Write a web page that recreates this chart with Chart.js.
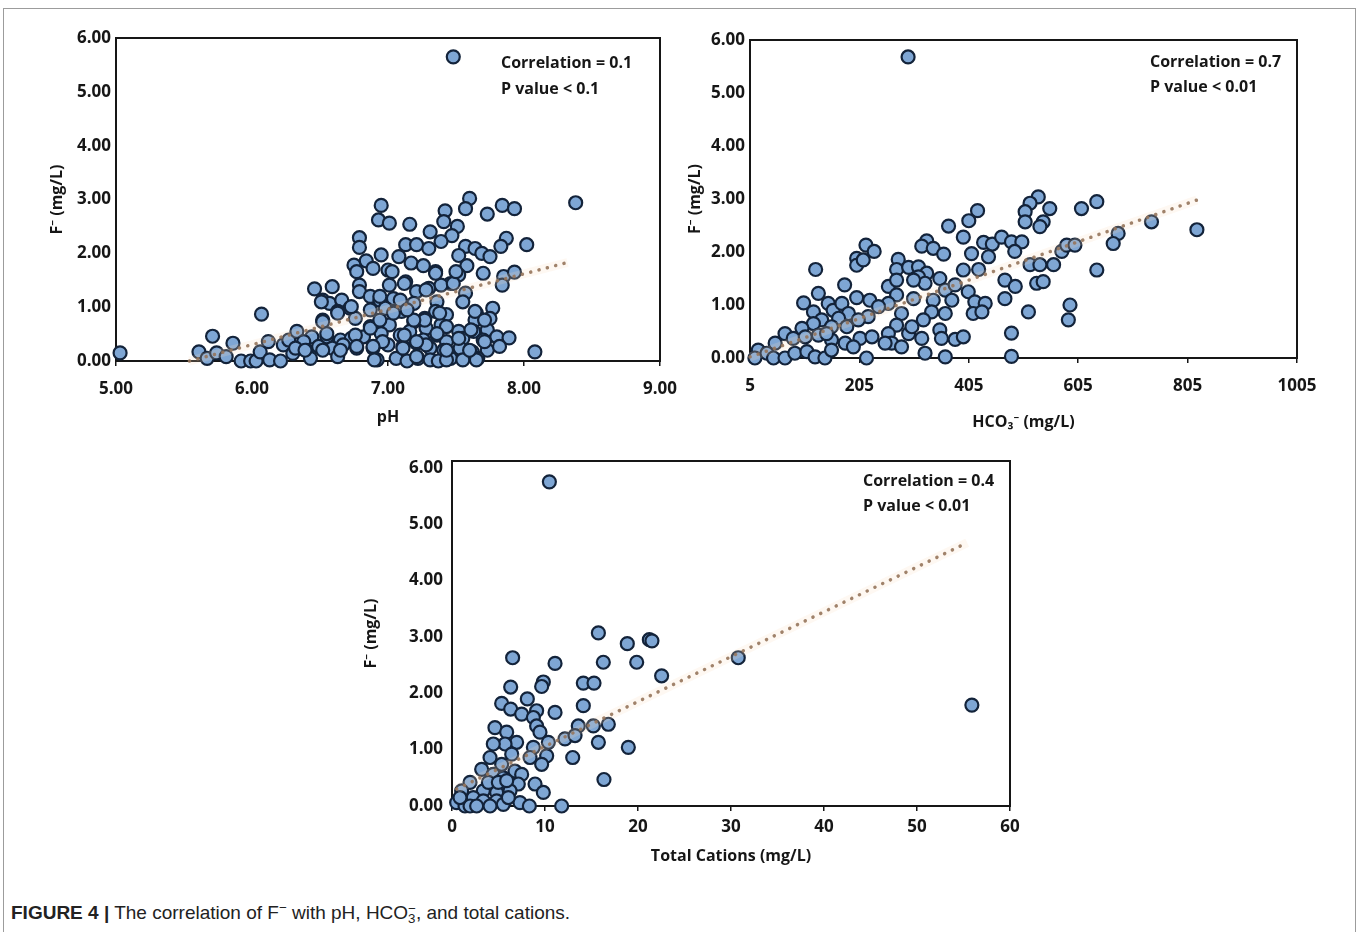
<!DOCTYPE html>
<html>
<head>
<meta charset="utf-8">
<script src="https://cdn.jsdelivr.net/npm/chart.js@4.4.1/dist/chart.umd.min.js"></script>
<style>
  body { margin: 0; background: #fff; width: 1358px; height: 932px; position: relative; overflow: hidden; }
  .frame { position: absolute; left: 3px; top: 8px; width: 1351px; height: 940px; border: 1px solid #9c9c9c; }
  canvas { position: absolute; }
  #caption { position: absolute; left: 11px; top: 900px; font-family: "Liberation Sans", Arial, sans-serif; font-size: 19px; color: #222; white-space: nowrap; }
  .ss { display: inline-block; vertical-align: -0.3em; line-height: 0.75em; font-size: 0.7em; }
</style>
</head>
<body>
<div class="frame"></div>
<canvas id="phChart" width="656" height="403" style="left:44px;top:28px"></canvas>
<canvas id="hco3Chart" width="655" height="408" style="left:682px;top:28px"></canvas>
<canvas id="cationChart" width="677" height="420" style="left:358px;top:450px"></canvas>
<div id="caption"><b>FIGURE 4 |</b> The correlation of F<sup style="font-size:0.7em">−</sup> with pH, HCO<span class="ss">−<br>3</span>, and total cations.</div>

<script>
const FONT = "'Open Sans', 'Noto Sans', sans-serif";
const INK = "#161616";

// shared y axis (fluoride, mg/L)
const fluorideTicks = [0, 1, 2, 3, 4, 5, 6];

// pH vs F-
const phTicks = [5, 6, 7, 8, 9];
const phPoints = [
  [5.03,0.15],[5.61,0.17],[5.71,0.46],[5.67,0.05],[5.74,0.15],[5.81,0.08],[5.86,0.33],[5.92,0.0],[5.99,0.0],
  [6.03,0.0],[6.07,0.87],[6.06,0.17],[6.12,0.36],[6.13,0.02],[6.21,0.0],[6.23,0.3],[6.27,0.39],[6.30,0.14],
  [7.60,3.02],[7.57,2.83],[7.73,2.73],[7.84,2.89],[7.93,2.83],[6.95,2.89],[6.93,2.62],[7.01,2.56],[7.16,2.54],
  [7.42,2.79],[7.41,2.59],[7.51,2.50],[7.47,2.33],[7.31,2.40],[8.02,2.16],[7.87,2.28],[7.83,2.13],[6.79,2.29],
  [6.79,2.11],[7.13,2.16],[7.21,2.16],[7.30,2.09],[7.39,2.22],[7.57,2.13],[7.64,2.09],[7.69,2.00],[7.75,1.94],
  [7.52,1.96],[6.95,1.97],[7.08,1.94],[6.84,1.86],[6.75,1.78],[6.89,1.72],[7.00,1.69],[7.17,1.82],[7.26,1.77],
  [7.35,1.66],[7.58,1.77],[6.77,1.66],[7.70,1.63],[7.52,1.60],[7.46,1.44],[7.85,1.57],[7.93,1.65],[7.84,1.41],
  [6.46,1.34],[6.59,1.38],[6.79,1.41],[6.79,1.29],[7.01,1.41],[7.13,1.47],[7.30,1.35],[7.39,1.41],[7.21,1.29],
  [7.57,1.26],[7.55,1.10],[6.52,1.13],[6.57,1.07],[6.66,1.13],[6.87,1.20],[6.94,1.13],[7.04,1.16],[7.10,1.07],
  [7.19,1.07],[7.36,1.10],[6.72,0.98],[6.63,0.92],[6.87,0.95],[6.98,0.98],[7.10,0.92],[7.35,0.92],[7.43,0.86],
  [7.65,0.89],[7.77,0.98],[7.75,0.79],[7.64,0.76],[6.52,0.76],[6.76,0.79],[6.87,0.64],[7.01,0.67],[7.19,0.73],
  [7.27,0.79],[7.28,0.61],[7.39,0.67],[7.52,0.55],[7.63,0.55],[7.73,0.58],[6.33,0.55],[6.44,0.45],[6.55,0.45],
  [6.65,0.39],[6.73,0.42],[6.82,0.45],[6.95,0.51],[7.09,0.48],[7.16,0.55],[7.26,0.39],[7.36,0.48],[7.43,0.36],
  [7.55,0.42],[7.70,0.39],[7.80,0.45],[7.89,0.43],[8.08,0.17],[6.38,0.36],[6.32,0.24],[6.40,0.20],[6.49,0.27],
  [6.59,0.24],[6.67,0.30],[6.77,0.24],[6.89,0.24],[7.00,0.30],[7.11,0.27],[7.21,0.33],[7.31,0.24],[7.41,0.20],
  [7.53,0.24],[7.62,0.17],[7.73,0.20],[7.82,0.27],[6.43,0.05],[6.63,0.08],[6.92,0.02],[7.06,0.05],[7.14,0.00],
  [7.22,0.05],[7.31,0.02],[7.37,0.00],[7.46,0.05],[7.55,0.02],[7.66,0.05],[7.48,5.65],[8.38,2.94],
  [6.51,1.10],[6.73,1.01],[6.63,0.89],[6.52,0.73],[6.55,0.51],[6.76,0.48],[6.87,0.61],[6.94,1.20],[7.12,1.44],
  [7.09,1.13],[7.28,1.32],[7.48,1.44],[7.64,0.92],[7.71,0.76],[7.61,0.58],[7.71,0.36],[7.52,0.42],[7.43,0.64],
  [7.36,0.51],[7.28,0.30],[7.21,0.36],[7.12,0.48],[6.94,0.76],[7.27,0.76],[7.38,0.89],[7.19,0.76],[6.96,0.36],
  [6.89,0.27],[6.77,0.27],[6.65,0.20],[6.52,0.20],[6.39,0.20],[6.90,0.02],[7.21,0.08],[7.43,0.02],[7.65,0.02],
  [7.11,0.24],[7.43,0.20],[7.60,0.20],[7.04,0.89],[7.14,0.95],[7.03,1.66],[7.35,1.63],[7.50,1.66]
];
const phTrend = [[5.54,0.0],[8.32,1.83]];

// HCO3- vs F-
const hco3Ticks = [5, 205, 405, 605, 805, 1005];
const hco3Points = [
  [294,5.68],
  [421,2.78],[405,2.59],[368,2.49],[395,2.28],[432,2.18],[448,2.15],[465,2.28],[483,2.19],[441,1.91],[410,1.97],
  [395,1.66],[423,1.67],[471,1.47],[471,1.12],[490,1.35],[328,2.21],[319,2.11],[340,2.07],[359,1.96],[276,1.86],
  [273,1.67],[295,1.71],[313,1.72],[328,1.60],[313,1.53],[352,1.50],[258,1.35],[273,1.47],[362,1.28],[380,1.38],
  [404,1.25],[416,1.06],[435,1.03],[413,0.84],[429,0.87],[340,1.09],[374,1.09],[337,0.87],[362,0.84],[322,0.72],
  [352,0.53],[355,0.37],[380,0.35],[395,0.40],[325,0.09],[362,0.02],[304,1.12],[273,1.19],[258,1.03],[282,0.84],
  [273,0.62],[258,0.46],[295,0.46],[319,0.37],[264,0.28],[282,0.21],[252,0.28],[217,2.13],[232,2.01],[200,1.88],
  [200,1.75],[212,1.85],[125,1.67],[178,1.38],[130,1.22],[103,1.04],[121,0.87],[148,1.03],[157,0.90],[173,1.03],
  [185,0.84],[200,1.14],[224,1.09],[240,0.97],[221,0.78],[203,0.72],[136,0.72],[167,0.75],[182,0.59],[154,0.59],
  [121,0.65],[100,0.56],[69,0.46],[84,0.37],[51,0.28],[106,0.40],[130,0.43],[154,0.34],[179,0.28],[206,0.37],
  [228,0.40],[194,0.21],[20,0.15],[36,0.09],[48,0.00],[69,0.00],[87,0.09],[109,0.12],[124,0.02],[142,0.00],
  [154,0.15],[218,0.00],[14,0.00],[301,0.59],[145,0.46],[325,1.41],[304,1.47],
  [532,3.04],[517,2.92],[508,2.76],[508,2.57],[541,2.57],[553,2.82],[611,2.82],[639,2.95],[535,2.48],[739,2.57],
  [822,2.42],[502,2.19],[489,2.01],[517,1.76],[535,1.76],[560,1.76],[575,2.01],[584,2.13],[599,2.13],[678,2.35],
  [669,2.16],[639,1.66],[529,1.41],[541,1.44],[514,0.87],[590,1.00],[587,0.72],[483,0.47],[483,0.03]
];
const hco3Trend = [[5,0.02],[822,2.98]];

// total cations vs F-
const cationTicks = [0, 10, 20, 30, 40, 50, 60];
const cationPoints = [
  [15.74,3.07],[18.85,2.88],[21.22,2.95],[21.5,2.93],[16.27,2.55],[19.86,2.55],[22.54,2.31],[6.52,2.63],[11.08,2.53],
  [6.31,2.11],[9.82,2.20],[9.64,2.12],[14.12,2.18],[15.27,2.18],[14.12,1.78],[5.34,1.82],[6.31,1.72],[8.10,1.90],
  [7.49,1.63],[9.10,1.69],[11.08,1.66],[8.75,1.57],[9.10,1.42],[9.46,1.31],[4.62,1.39],[5.88,1.31],[6.95,1.13],
  [5.70,1.10],[4.44,1.10],[13.58,1.42],[15.20,1.42],[16.81,1.45],[12.15,1.19],[13.23,1.25],[15.74,1.13],[18.96,1.04],
  [12.98,0.86],[16.34,0.47],[8.75,1.04],[10.36,1.13],[10.18,0.89],[9.64,0.74],[8.39,0.86],[6.42,0.92],[5.34,0.74],
  [4.09,0.86],[3.19,0.65],[4.44,0.56],[5.52,0.50],[6.77,0.62],[7.49,0.56],[7.13,0.39],[8.93,0.39],[9.82,0.24],
  [6.24,0.27],[4.80,0.24],[3.37,0.27],[1.94,0.42],[1.04,0.27],[2.29,0.15],[3.37,0.09],[4.80,0.09],[5.52,0.03],
  [7.31,0.06],[8.32,0.00],[11.79,0.00],[0.50,0.06],[1.40,0.00],[1.94,0.00],[2.65,0.00],[4.09,0.00],[6.06,0.15],
  [3.91,0.42],[4.98,0.42],[5.88,0.45],[0.86,0.15],[10.47,5.75],[30.78,2.63],[55.9,1.79]
];
const cationTrend = [[0.5,0.3],[55.4,4.67]];

function toXY(pairs) {
  return pairs.map(([x, y]) => ({ x, y }));
}

// box around the plot area, under the points
const framePlugin = {
  id: "frame",
  beforeDatasetsDraw(chart) {
    const { ctx, chartArea: a } = chart;
    ctx.save();
    ctx.strokeStyle = INK;
    ctx.lineWidth = 2;
    ctx.strokeRect(a.left, a.top, a.right - a.left, a.bottom - a.top);
    ctx.restore();
  }
};

// "Correlation = .." text in the top right corner
const statsPlugin = {
  id: "stats",
  afterDatasetsDraw(chart, args, opts) {
    const { ctx, chartArea } = chart;
    ctx.save();
    ctx.font = "bold 16px " + FONT;
    ctx.fillStyle = INK;
    ctx.textBaseline = "middle";
    opts.lines.forEach((line, i) => {
      ctx.fillText(line, chartArea.right - opts.dx, chartArea.top + opts.dy + i * opts.gap);
    });
    ctx.restore();
  }
};

function makeChart(id, o) {
  const ctx = document.getElementById(id).getContext("2d");
  return new Chart(ctx, {
    type: "scatter",
    data: {
      datasets: [
        {
          data: toXY(o.trend), showLine: true, pointRadius: 0, clip: false,
          borderColor: "rgba(150,118,92,0.9)", borderWidth: 3.5, borderDash: [0.1, 8.5], borderCapStyle: "round"
        },
        {
          data: toXY(o.trend), showLine: true, pointRadius: 0, clip: false,
          borderColor: "rgba(250,222,188,0.2)", borderWidth: 9
        },
        {
          data: toXY(o.points), clip: false,
          pointRadius: 6.5, pointBackgroundColor: "#7ea6d4", pointBorderColor: "#13233a", pointBorderWidth: 2.2
        }
      ]
    },
    options: {
      responsive: false,
      animation: false,
      events: [],
      layout: { padding: o.padding },
      plugins: {
        legend: { display: false },
        tooltip: { enabled: false },
        stats: o.stats
      },
      scales: {
        x: {
          type: "linear",
          min: o.xTicks[0],
          max: o.xTicks[o.xTicks.length - 1],
          afterBuildTicks: (axis) => { axis.ticks = o.xTicks.map((v) => ({ value: v })); },
          afterFit: (axis) => {
            axis.height = o.xHeight;
            axis.paddingLeft = 0;
            axis.paddingRight = 0;
          },
          grid: { display: true, drawOnChartArea: false, drawTicks: true, tickLength: 5, color: INK, lineWidth: 1.5 },
          border: { display: false },
          ticks: {
            font: { family: FONT, size: 17, weight: "bold" }, color: INK,
            padding: o.xPad, maxRotation: 0, autoSkip: false, callback: o.xFormat
          },
          title: {
            display: true, text: o.xTitle, color: INK,
            font: { family: FONT, size: 16, weight: "bold" }, padding: { top: 4, bottom: 4 }
          }
        },
        y: {
          type: "linear",
          min: 0,
          max: o.yMax,
          afterBuildTicks: (axis) => { axis.ticks = fluorideTicks.map((v) => ({ value: v })); },
          afterFit: (axis) => {
            axis.width = o.yWidth;
            axis.paddingTop = 0;
            axis.paddingBottom = 0;
          },
          grid: { display: false, drawTicks: false },
          border: { display: false },
          ticks: {
            font: { family: FONT, size: 17, weight: "bold" }, color: INK,
            padding: o.yPad, autoSkip: false, callback: (v) => v.toFixed(2)
          },
          title: {
            display: true, text: "F\u207B (mg/L)", color: INK,
            font: { family: FONT, size: 16, weight: "bold" }, padding: { top: 4, bottom: 4 }
          }
        }
      }
    },
    plugins: [framePlugin, statsPlugin]
  });
}

makeChart("phChart", {
  points: phPoints, trend: phTrend, xTicks: phTicks, xTitle: "pH",
  xFormat: (v) => v.toFixed(2), yMax: 6,
  padding: { top: 10, right: 40, left: 0, bottom: 0 },
  yWidth: 72, xHeight: 70, xPad: 13, yPad: 5,
  stats: { lines: ["Correlation = 0.1", "P value < 0.1"], dx: 159, dy: 25, gap: 26 }
});

makeChart("hco3Chart", {
  points: hco3Points, trend: hco3Trend, xTicks: hco3Ticks, xTitle: "HCO\u2083\u207B (mg/L)",
  xFormat: (v) => String(v), yMax: 6,
  padding: { top: 12, right: 40, left: 0, bottom: 0 },
  yWidth: 68, xHeight: 78, xPad: 13, yPad: 5,
  stats: { lines: ["Correlation = 0.7", "P value < 0.01"], dx: 147, dy: 22, gap: 25 }
});

makeChart("cationChart", {
  points: cationPoints, trend: cationTrend, xTicks: cationTicks, xTitle: "Total Cations (mg/L)",
  xFormat: (v) => String(v), yMax: 6.12,
  padding: { top: 11, right: 25, left: 0, bottom: 0 },
  yWidth: 94, xHeight: 64, xPad: 6, yPad: 9,
  stats: { lines: ["Correlation = 0.4", "P value < 0.01"], dx: 147, dy: 20, gap: 25 }
});
</script>
</body>
</html>
